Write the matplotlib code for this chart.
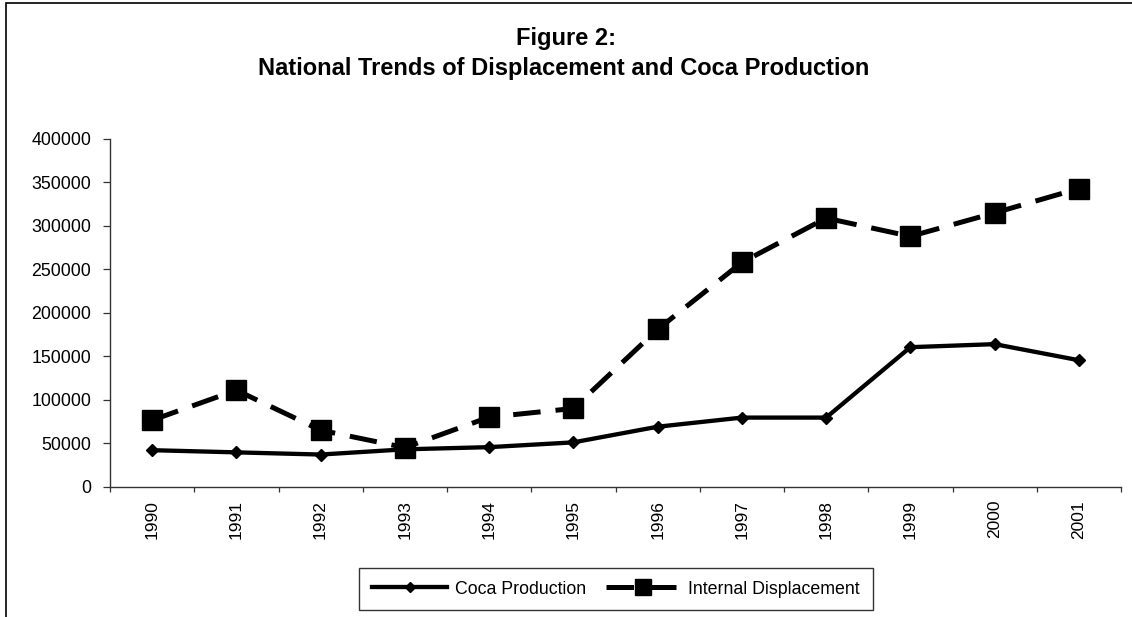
import matplotlib
matplotlib.use("Agg")
import matplotlib.pyplot as plt
from matplotlib.patches import Rectangle
import numpy as np

plt.rcParams['font.family'] = ['Liberation Sans', 'DejaVu Sans']

years = ["1990", "1991", "1992", "1993", "1994", "1995",
         "1996", "1997", "1998", "1999", "2000", "2001"]
coca_production = [42000, 39500, 37000, 43000, 45500, 51000,
                   69000, 79500, 79500, 160500, 164000, 145500]
internal_displacement = [76500, 111000, 65000, 45000, 80000, 90000,
                         181000, 258000, 309000, 288000, 315000, 343000]
y_ticks = [0, 50000, 100000, 150000, 200000, 250000, 300000, 350000, 400000]

W, H = 1132, 617
fig = plt.figure(figsize=(W / 100, H / 100), dpi=100)

# Outer chart border
fig.patches.append(Rectangle((6 / W, -0.05), 1.2, 1.05 - 3 / H,
                             transform=fig.transFigure, fill=False,
                             edgecolor='black', linewidth=1.2))

ax_left, ax_right = 110 / W, 1121 / W
ax_top, ax_bottom = 1 - 139 / H, 1 - 486.7 / H
ax = fig.add_axes([ax_left, ax_bottom, ax_right - ax_left, ax_top - ax_bottom])

x = np.arange(len(years))
ax.plot(x, coca_production, color='black', linewidth=3.1, marker='D',
        markersize=6.5, label='Coca Production')
ax.plot(x, internal_displacement, color='black', linewidth=3.6,
        dashes=(5.5, 3), marker='s', markersize=14.5,
        label='Internal Displacement')

ax.set_xlim(-0.5, len(years) - 0.5)
ax.set_ylim(0, 400000)
ax.set_yticks(y_ticks)
ax.set_yticklabels([str(v) for v in y_ticks], fontsize=12.8)

# Category axis: ticks at category boundaries, labels at centres
ax.set_xticks(np.arange(-0.5, len(years), 1.0))
ax.set_xticklabels([])
ax.set_xticks(x, minor=True)
ax.set_xticklabels(years, minor=True, rotation=90, fontsize=12.5)
ax.tick_params(axis='x', which='major', direction='out', length=3.6, width=0.9, color='#333333')
ax.tick_params(axis='x', which='minor', length=0, pad=9.5)
ax.tick_params(axis='y', direction='out', length=5, width=0.9, color='#333333', pad=8.6)

for side in ('top', 'right'):
    ax.spines[side].set_visible(False)
for side in ('left', 'bottom'):
    ax.spines[side].set_color('#333333')
    ax.spines[side].set_linewidth(1.0)
ax.set_facecolor('none')

fig.text(566 / W, 1 - 38 / H, "Figure 2:", ha='center', va='center',
         fontsize=17, fontweight='bold')
fig.text(564 / W, 1 - 69 / H, "National Trends of Displacement and Coca Production",
         ha='center', va='center', fontsize=17, fontweight='bold')

leg = fig.legend(loc='center', bbox_to_anchor=(616 / W, 1 - 589 / H),
                 ncol=2, fontsize=12.8, frameon=True, fancybox=False,
                 edgecolor='black', handlelength=4.2, handletextpad=0.45,
                 columnspacing=1.1, markerscale=0.75, borderpad=0.72)
leg.get_frame().set_linewidth(1.0)

fig.savefig("out.png", dpi=100)
